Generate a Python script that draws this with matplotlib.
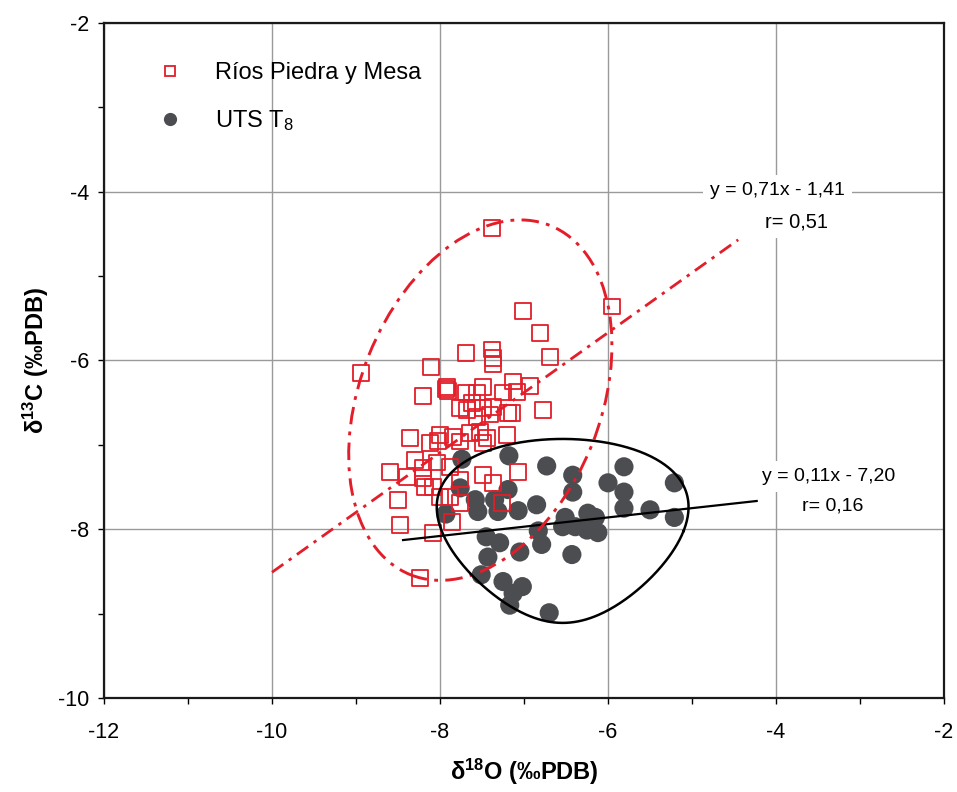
import numpy as np
import matplotlib
matplotlib.use("Agg")
import matplotlib.pyplot as plt
from matplotlib.patches import Ellipse
from matplotlib.lines import Line2D

plt.rcParams['font.family'] = ['Liberation Sans', 'DejaVu Sans']
plt.rcParams['mathtext.fontset'] = 'custom'
plt.rcParams['mathtext.rm'] = 'Liberation Sans'
plt.rcParams['mathtext.it'] = 'Liberation Sans:italic'
plt.rcParams['mathtext.bf'] = 'Liberation Sans:bold'

# --- Ríos Piedra y Mesa (open squares) ---
rios_d18o = [-7.38, -5.95, -7.01, -6.81, -6.69, -7.69, -7.38, -7.37, -7.37, -8.94,
             -8.11, -7.93, -7.90, -7.92, -8.20, -7.49, -7.13, -6.93, -6.77, -7.69,
             -7.62, -7.56, -7.49, -7.37, -7.25, -7.19, -7.08, -7.68, -7.76, -7.56,
             -7.40, -7.14, -8.36, -8.00, -8.12, -7.85, -7.76, -7.52, -7.44, -7.20,
             -7.64, -7.49, -8.60, -8.39, -8.30, -8.20, -8.18, -8.04, -8.08, -7.88,
             -7.76, -7.49, -7.37, -7.07, -8.50, -8.00, -7.88, -7.76, -7.26, -8.48,
             -8.08, -7.86, -8.24, -8.20, -8.02]
rios_d13c = [-4.43, -5.36, -5.41, -5.67, -5.96, -5.91, -5.87, -5.97, -6.04, -6.15,
             -6.08, -6.34, -6.36, -6.31, -6.42, -6.31, -6.25, -6.30, -6.59, -6.38,
             -6.50, -6.38, -6.56, -6.55, -6.38, -6.62, -6.37, -6.59, -6.56, -6.67,
             -6.64, -6.62, -6.92, -6.88, -6.98, -6.91, -6.96, -6.85, -6.92, -6.88,
             -6.86, -6.98, -7.32, -7.38, -7.18, -7.39, -7.50, -7.21, -7.50, -7.26,
             -7.41, -7.36, -7.45, -7.32, -7.65, -7.62, -7.62, -7.69, -7.69, -7.95,
             -8.04, -7.91, -8.58, -7.27, -6.95]

# --- UTS T8 (filled circles) ---
uts_d18o = [-7.18, -6.73, -6.42, -6.42, -6.00, -5.81, -5.81, -5.21, -5.81, -5.50,
            -5.21, -6.51, -6.54, -6.39, -6.24, -6.15, -6.25, -6.12, -6.43, -6.70,
            -7.74, -7.76, -7.58, -7.55, -7.35, -7.31, -7.19, -7.07, -6.85, -7.93,
            -7.45, -7.29, -7.43, -7.05, -6.83, -6.79, -7.51, -7.25, -7.02, -7.13,
            -7.17]
uts_d13c = [-7.13, -7.25, -7.36, -7.56, -7.45, -7.26, -7.56, -7.45, -7.75, -7.77,
            -7.86, -7.86, -7.97, -7.97, -7.81, -7.86, -8.01, -8.04, -8.30, -8.99,
            -7.17, -7.51, -7.65, -7.79, -7.65, -7.79, -7.53, -7.78, -7.71, -7.82,
            -8.09, -8.16, -8.33, -8.27, -8.02, -8.18, -8.54, -8.62, -8.68, -8.76,
            -8.90]

# Regression fits: slope, intercept, x-range
rios_fit = (0.71, -1.41, -10.0, -4.45)
uts_fit = (0.11, -7.20, -8.44, -4.23)

# Envelopes
rios_env = dict(center=(-7.52, -6.47), semi_major=2.23, semi_minor=1.43, angle=-22)
uts_env = dict(center=(-6.54, -8.02), rx=1.44, ry=1.09, taper=0.3)

RED = '#e31e2a'
GRAY = '#4b4d50'

fig = plt.figure(figsize=(9.57, 7.92), dpi=100)
ax = fig.add_axes([0.1087, 0.1187, 0.8777, 0.8523])

ax.set_xlim(-12, -2)
ax.set_ylim(-10, -2)
ax.set_xticks(np.arange(-12, -1, 2))
ax.set_yticks(np.arange(-10, -1, 2))
ax.set_xticks(np.arange(-11, -2, 2), minor=True)
ax.set_yticks(np.arange(-9, -2, 2), minor=True)
ax.set_xticklabels([str(v) for v in range(-12, -1, 2)])
ax.set_yticklabels([str(v) for v in range(-10, -1, 2)])
ax.grid(True, which='major', color='#9a9a9a', linewidth=1.0, zorder=0)
ax.set_axisbelow(True)
ax.tick_params(which='both', direction='out', length=4.5, width=1.0, labelsize=15.5)
ax.tick_params(axis='x', which='major', pad=13)
ax.tick_params(axis='y', which='major', pad=6)
ax.tick_params(which='minor', length=4)
for s in ax.spines.values():
    s.set_linewidth(1.6)
    s.set_color('#1a1a1a')

# Data points
ax.scatter(uts_d18o, uts_d13c, s=190, color=GRAY, edgecolors='none', zorder=3)
ax.scatter(rios_d18o, rios_d13c, s=130, marker='s', facecolors='none',
           edgecolors=RED, linewidths=1.3, zorder=4)

# Regression lines
for (m, b, x0, x1), col, ls, lw in [
        (rios_fit, RED, (0, (5, 2.4, 1.2, 2.4)), 2.0),
        (uts_fit, 'black', '-', 1.6)]:
    xs = np.array([x0, x1])
    ax.plot(xs, m * xs + b, color=col, linestyle=ls, linewidth=lw, zorder=5)

# Envelopes
ell = Ellipse(rios_env['center'], width=2 * rios_env['semi_minor'],
              height=2 * rios_env['semi_major'], angle=rios_env['angle'],
              fill=False, edgecolor=RED, linewidth=2.1,
              linestyle=(0, (6, 2.5, 1.3, 2.5)), zorder=5)
ax.add_patch(ell)

t = np.linspace(0, 2 * np.pi, 400)
cx, cy = uts_env['center']
ex = cx + uts_env['rx'] * np.cos(t) * (1 - uts_env['taper'] * np.sin(t))
ey = cy - uts_env['ry'] * np.sin(t)
ax.plot(ex, ey, color='black', linewidth=1.8, zorder=5)

# Equation labels
box = dict(facecolor='white', edgecolor='none', pad=5)
ax.text(-3.98, -3.98, 'y = 0,71x - 1,41', ha='center', va='center', fontsize=14, bbox=box, zorder=6)
ax.text(-3.75, -4.36, 'r= 0,51', ha='center', va='center', fontsize=14.5, bbox=box, zorder=6)
ax.text(-3.37, -7.38, 'y = 0,11x - 7,20', ha='center', va='center', fontsize=14, bbox=box, zorder=6)
ax.text(-3.33, -7.72, 'r= 0,16', ha='center', va='center', fontsize=14, bbox=box, zorder=6)

# Axis labels
ax.set_xlabel(r'δ$^{\mathbf{18}}$O (‰PDB)', fontsize=17, fontweight='bold', labelpad=10)
ax.set_ylabel(r'δ$^{\mathbf{13}}$C (‰PDB)', fontsize=17, fontweight='bold', labelpad=5)

# Legend
handles = [
    Line2D([], [], linestyle='none', marker='s', markersize=7.5, markerfacecolor='none',
           markeredgecolor=RED, markeredgewidth=1.3),
    Line2D([], [], linestyle='none', marker='o', markersize=9.5, markerfacecolor=GRAY,
           markeredgecolor='none'),
]
ax.legend(handles, ['Ríos Piedra y Mesa', r'UTS T$_{8}$'], loc='upper left',
          bbox_to_anchor=(0.053, 0.956), borderaxespad=0, frameon=False,
          fontsize=17, handlelength=1.0, handletextpad=1.4, labelspacing=1.02)

fig.savefig('out.png', dpi=100)
